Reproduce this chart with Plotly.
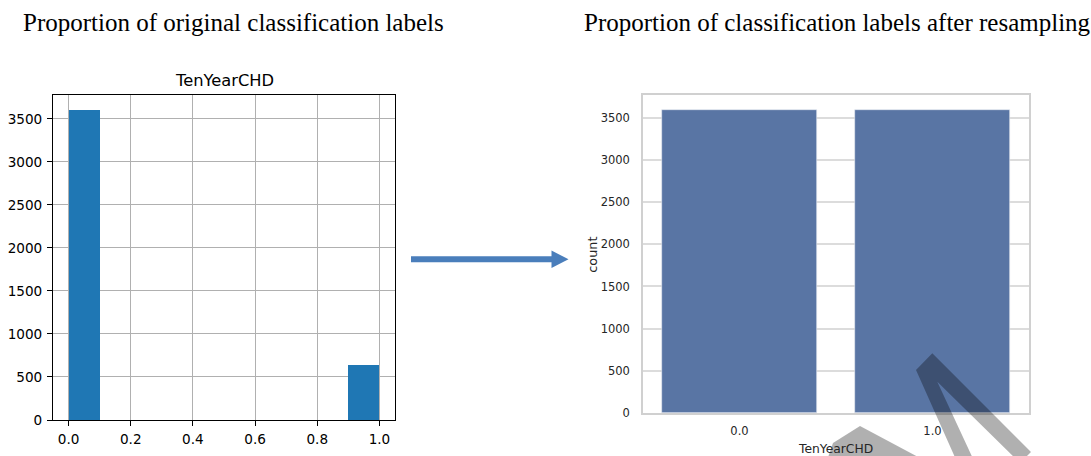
import plotly.graph_objects as go

# ---------------- data ----------------
hist_edges = [0.0, 0.1, 0.2, 0.3, 0.4, 0.5, 0.6, 0.7, 0.8, 0.9, 1.0]
hist_counts = [3596, 0, 0, 0, 0, 0, 0, 0, 0, 644]
left_xticks = [0.0, 0.2, 0.4, 0.6, 0.8, 1.0]
y_ticks = [0, 500, 1000, 1500, 2000, 2500, 3000, 3500]

resampled_labels = ["0.0", "1.0"]
resampled_counts = [3596, 3596]

title_left = "Proportion of original classification labels"
title_right = "Proportion of classification labels after resampling"
var_name = "TenYearCHD"

# ---------------- layout helpers ----------------
W, H = 1091, 456


def px(x):
    return x / W


def py(y):
    return 1 - y / H


bin_centers = [(a + b) / 2 for a, b in zip(hist_edges[:-1], hist_edges[1:])]
bin_widths = [b - a for a, b in zip(hist_edges[:-1], hist_edges[1:])]
span = hist_edges[-1] - hist_edges[0]

fig = go.Figure()

fig.add_trace(go.Bar(
    x=bin_centers, y=hist_counts, width=bin_widths,
    marker=dict(color="#1f77b4", line=dict(width=0)),
    xaxis="x", yaxis="y", showlegend=False,
))

cat_pos = list(range(len(resampled_labels)))
fig.add_trace(go.Bar(
    x=cat_pos, y=resampled_counts, width=0.8,
    marker=dict(color="#5975a4", line=dict(width=0.6, color="#e8ecf4")),
    xaxis="x2", yaxis="y2", showlegend=False,
))

ymax_left = max(hist_counts) * 1.05
ymax_right = max(resampled_counts) * 1.05

left_font = dict(family="DejaVu Sans", size=13.6, color="#000000")
right_font = dict(family="DejaVu Sans", size=11.5, color="#262626")

fig.update_layout(
    template="none",
    width=W, height=H,
    margin=dict(l=0, r=0, t=0, b=0, pad=0, autoexpand=False),
    paper_bgcolor="white", plot_bgcolor="white",
    xaxis=dict(
        domain=[px(53), px(395)], anchor="y", automargin=False,
        range=[hist_edges[0] - 0.05 * span, hist_edges[-1] + 0.05 * span],
        tickvals=left_xticks, tickformat=".1f",
        showgrid=True, gridcolor="#b0b0b0", gridwidth=1,
        showline=True, linecolor="#000000", linewidth=1, mirror=True,
        ticks="outside", ticklen=5, tickcolor="#000000", tickwidth=1,
        tickfont=left_font, zeroline=False, ticklabelstandoff=2,
    ),
    yaxis=dict(
        domain=[py(420), py(95)], anchor="x", automargin=False,
        range=[0, ymax_left],
        tickvals=y_ticks,
        showgrid=True, gridcolor="#b0b0b0", gridwidth=1,
        showline=True, linecolor="#000000", linewidth=1, mirror=True,
        ticks="outside", ticklen=5, tickcolor="#000000", tickwidth=1,
        tickfont=left_font, zeroline=False, ticklabelstandoff=2,
    ),
    xaxis2=dict(
        domain=[px(643), px(1029)], anchor="y2", automargin=False,
        range=[-0.5, len(resampled_labels) - 0.5],
        tickvals=cat_pos, ticktext=resampled_labels,
        showgrid=False,
        showline=True, linecolor="#d0d0d0", linewidth=1.5, mirror=True,
        ticks="", tickfont=right_font, zeroline=False, ticklabelstandoff=7,
    ),
    yaxis2=dict(
        domain=[py(412.7), py(95)], anchor="x2", automargin=False,
        range=[0, ymax_right],
        tickvals=y_ticks,
        showgrid=True, gridcolor="#dcdcdc", gridwidth=1.5,
        showline=True, linecolor="#d0d0d0", linewidth=1.5, mirror=True,
        ticks="", tickfont=right_font, zeroline=False, ticklabelstandoff=9,
    ),
    bargap=0,
)

annotations = [
    dict(text=title_left, x=px(21), y=py(23), xanchor="left", yanchor="middle",
         font=dict(family="Liberation Serif", size=25, color="#000000")),
    dict(text=title_right, x=px(582), y=py(23), xanchor="left", yanchor="middle",
         font=dict(family="Liberation Serif", size=25, color="#000000")),
    dict(text=var_name, x=px(224), y=py(80.7), xanchor="center", yanchor="middle",
         font=dict(family="DejaVu Sans", size=16.3, color="#000000")),
    dict(text="count", x=px(591.7), y=py(255), xanchor="center", yanchor="middle",
         textangle=-90, font=dict(family="DejaVu Sans", size=12.8, color="#262626")),
    dict(text=var_name, x=px(835.5), y=py(449), xanchor="center", yanchor="middle",
         font=dict(family="DejaVu Sans", size=12.3, color="#262626")),
]
for a in annotations:
    a.update(xref="paper", yref="paper", showarrow=False)
fig.update_layout(annotations=annotations)


def poly(points):
    return "M " + " L ".join(f"{px(x):.5f},{py(y):.5f}" for x, y in points) + " Z"


arrow_color = "#4a7ebb"
wm_color = "rgba(0,0,0,0.31)"
shapes = [
    # arrow shaft
    dict(type="line", x0=px(411), x1=px(553), y0=py(259.3), y1=py(259.3),
         line=dict(color=arrow_color, width=6)),
    # arrow head
    dict(type="path", path=poly([(551.5, 250.5), (568.5, 259.3), (551.5, 268)]),
         fillcolor=arrow_color, line=dict(width=0)),
    # watermark strokes
    dict(type="path",
         path=poly([(916, 370), (932.3, 353.3), (1031, 452), (1020, 463),
                    (937.3, 381.7), (975, 463), (957.5, 463)]),
         fillcolor=wm_color, line=dict(width=0), layer="above"),
    dict(type="path",
         path=poly([(860, 426), (935, 466), (825, 466), (833, 443)]),
         fillcolor=wm_color, line=dict(width=0), layer="above"),
]
for s in shapes:
    s.update(xref="paper", yref="paper")
fig.update_layout(shapes=shapes)

fig.write_html(
    "out.html",
    config={"displayModeBar": False},
    post_script="document.body.style.margin='0';document.body.style.overflow='hidden';",
)
